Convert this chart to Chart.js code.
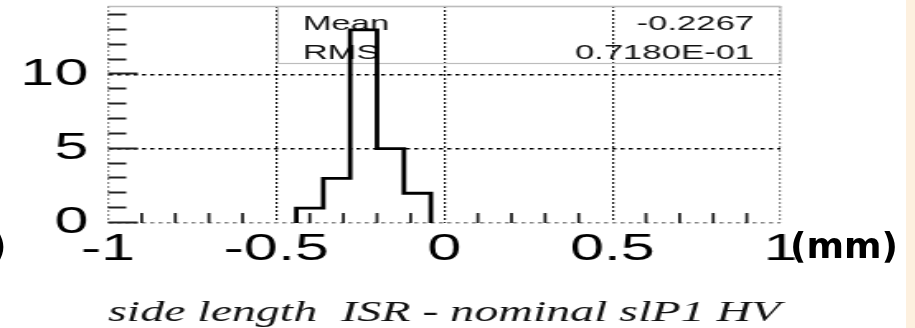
<!DOCTYPE html>
<html>
<head>
<meta charset="utf-8">
<script src="https://cdn.jsdelivr.net/npm/chart.js@4.4.1/dist/chart.umd.min.js"></script>
<style>
  html, body { margin: 0; padding: 0; background: #fff; }
  #wrap { position: relative; width: 915px; height: 328px; overflow: hidden; background: #fff; }
  #plot { position: absolute; left: 0; top: 0; transform: scaleX(1.65); transform-origin: 0 0; }
  .unit { position: absolute; font-family: "DejaVu Sans", sans-serif; font-weight: bold; font-size: 36px; line-height: 1; color: #000; }
  #strip { position: absolute; left: 906px; top: 0; width: 9px; height: 328px; background: #fdf0df; }
</style>
</head>
<body>
<div id="wrap">
  <canvas id="plot" width="555" height="328"></canvas>
  <div class="unit" style="left:-10px; top:228px;">)</div>
  <div class="unit" style="left:790px; top:228px;">(mm)</div>
  <div id="strip"></div>
</div>
<script>
// histogram: bin edges and entries per bin
const binEdges = [-0.44, -0.36, -0.28, -0.20, -0.12, -0.04];
const binCounts = [1, 3, 13, 5, 2];

// stats box
const statLabels = ['Mean', 'RMS'];
const statValues = ['-0.2267', '0.7180E-01'];

// axes
const xTickValues = [-1, -0.5, 0, 0.5, 1];
const yTickValues = [0, 5, 10];
const xMinorStep = 0.1;
const yMinorStep = 1;
const xTitle = 'side length  ISR - nominal slP1 HV';

// step outline: up at each left edge, across the bin, down at the last edge
const points = [{ x: binEdges[0], y: 0 }];
binCounts.forEach((c, i) => points.push({ x: binEdges[i + 1], y: c }));
points.push({ x: binEdges[binEdges.length - 1], y: 0 });

const tickFont = { family: '"Liberation Sans", Arial, sans-serif', size: 37 };

// frame top, stats box and the small ticks along the axes
const framePlugin = {
    id: 'framePlugin',
    beforeDatasetsDraw(chart) {
        const { ctx, chartArea: a, scales: { x } } = chart;
        ctx.save();
        ctx.strokeStyle = '#bcbcbc';
        ctx.lineWidth = 1.5;
        ctx.beginPath();
        ctx.moveTo(a.left, a.top + 0.5);
        ctx.lineTo(a.right, a.top + 0.5);
        ctx.stroke();

        const bx = x.getPixelForValue(-0.5) + 1;
        const bb = a.top + 57;
        ctx.lineWidth = 1.2;
        ctx.strokeRect(bx, a.top + 0.5, a.right - bx, bb - a.top);

        ctx.fillStyle = '#111';
        ctx.font = '21px "Liberation Sans", Arial, sans-serif';
        ctx.textBaseline = 'middle';
        statLabels.forEach((lab, i) => {
            const ty = a.top + 18 + i * 29;
            ctx.textAlign = 'left';
            ctx.fillText(lab, bx + 15, ty);
            ctx.textAlign = 'right';
            ctx.fillText(statValues[i], a.right - 16, ty);
        });
        ctx.restore();
    },
    afterDraw(chart) {
        const { ctx, chartArea: a, scales: { x, y } } = chart;
        ctx.save();
        ctx.strokeStyle = '#222';
        // y axis ticks
        ctx.lineWidth = 2;
        for (let v = 0; v <= y.max + 1e-9; v += yMinorStep) {
            const py = Math.round(y.getPixelForValue(v)) - 0.5;
            const len = yTickValues.includes(v) ? 18 : 11;
            ctx.beginPath();
            ctx.moveTo(a.left, py);
            ctx.lineTo(a.left + len, py);
            ctx.stroke();
        }
        // x axis ticks
        ctx.lineWidth = 1.8;
        for (let v = x.min + xMinorStep; v < x.max - 1e-9; v += xMinorStep) {
            const r = Math.round(v * 10) / 10;
            if (xTickValues.some(t => Math.abs(t - r) < 1e-6)) continue;
            const px = x.getPixelForValue(r);
            ctx.beginPath();
            ctx.moveTo(px, a.bottom);
            ctx.lineTo(px, a.bottom - 10);
            ctx.stroke();
        }
        ctx.restore();
    }
};

const ctx = document.getElementById('plot').getContext('2d');
new Chart(ctx, {
    type: 'line',
    data: {
        datasets: [{
            data: points,
            stepped: 'after',
            borderColor: '#000',
            borderWidth: 2.8,
            borderJoinStyle: 'miter',
            pointRadius: 0,
            fill: false
        }]
    },
    options: {
        responsive: false,
        animation: false,
        layout: { padding: { left: 0, top: 6, right: 82, bottom: 0 } },
        plugins: { legend: { display: false }, tooltip: { enabled: false } },
        scales: {
            x: {
                type: 'linear',
                min: -1,
                max: 1,
                afterBuildTicks: s => { s.ticks = xTickValues.map(v => ({ value: v })); },
                afterFit: s => { s.height = 105; s.paddingLeft = 0; s.paddingRight = 0; },
                ticks: {
                    font: tickFont,
                    color: '#000',
                    padding: 5,
                    maxRotation: 0,
                    autoSkip: false,
                    callback: v => String(v)
                },
                grid: {
                    color: c => (c.tick && Math.abs(c.tick.value) === 1) ? '#888' : '#111',
                    lineWidth: 1.2,
                    drawTicks: false
                },
                border: { display: false, dash: [2, 2] },
                title: {
                    display: true,
                    text: xTitle,
                    color: '#111',
                    font: { family: '"Liberation Serif", "Times New Roman", serif', style: 'italic', size: 30 },
                    padding: { top: 0, bottom: -3 }
                }
            },
            y: {
                type: 'linear',
                min: 0,
                max: 14.6,
                afterBuildTicks: s => { s.ticks = yTickValues.map(v => ({ value: v })); },
                afterFit: s => { s.width = 65.5; s.paddingTop = 0; s.paddingBottom = 0; },
                ticks: {
                    font: tickFont,
                    color: '#000',
                    padding: 12,
                    callback: v => String(v)
                },
                grid: {
                    color: c => (c.tick && c.tick.value === 0) ? '#888' : '#000',
                    lineWidth: 1.4,
                    drawTicks: false
                },
                border: { display: false, dash: [2.5, 2.5] }
            }
        }
    },
    plugins: [framePlugin]
});
</script>
</body>
</html>
